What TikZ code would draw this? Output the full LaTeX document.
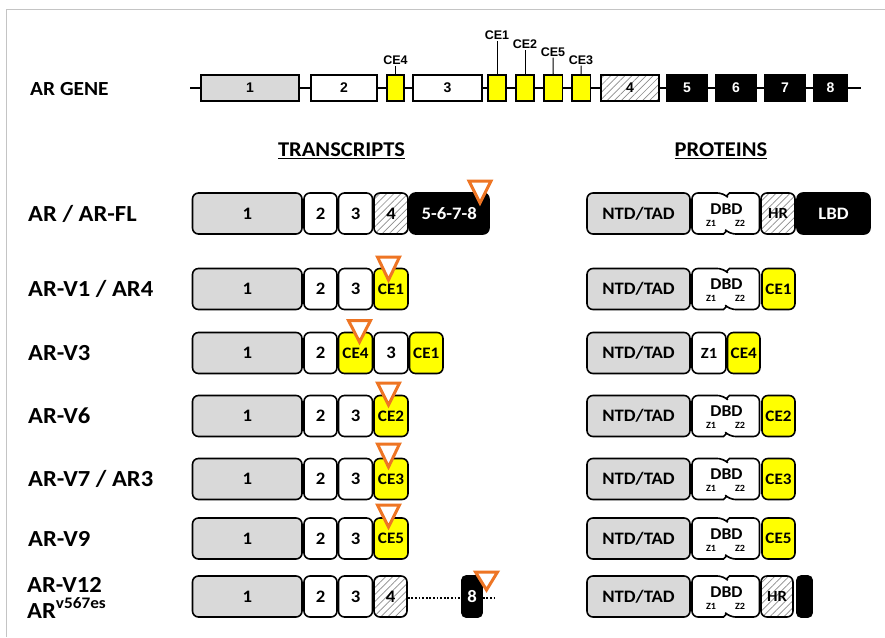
\documentclass[tikz,border=0pt]{standalone}
\usepackage{fontspec}
\setmainfont{Carlito}[FakeStretch=1.07]
\newfontfamily\arialf{Liberation Sans}
\usetikzlibrary{patterns.meta}
\definecolor{gfill}{HTML}{D9D9D9}
\definecolor{ylw}{HTML}{FFFF00}
\definecolor{orng}{HTML}{EE7524}
\definecolor{frm}{HTML}{C4C4C4}
\newcommand\myfs[1]{\fontsize{#1pt}{#1pt}\selectfont}
\newcommand\bx[6]{\node[#5, minimum width={(#3-#2)*1pt}] (#1) at ({(#2+#3)/2},#4) {#6};}
\newcommand\tri[3]{\draw[trimark] ({#1-11},#2) -- ({#1+11},#2) -- (#1,#3) -- cycle;}
\newcommand\dbd[2]{%
  \draw[line width=1.6pt, fill=white] (692,#2) [rounded corners=6pt] |- (723.5,{#2-20.5}) [sharp corners] -- (726.5,{#2-17.5}) -- (729.5,{#2-20.5}) [rounded corners=6pt] -| (759.5,#2) |- (729.5,{#2+20.5}) [sharp corners] -- (726.5,{#2+17.5}) -- (723.5,{#2+20.5}) [rounded corners=6pt] -| cycle;
  \node[font=\bfseries\myfs{16.5}, inner sep=0pt] (#1) at (726.5,{#2-4.5}) {DBD};
  \node[font=\bfseries\myfs{9.5}, inner sep=0pt] (#1z1) at (711,{#2+9.5}) {Z1};
  \node[font=\bfseries\myfs{9.5}, inner sep=0pt] (#1z2) at (740,{#2+9.5}) {Z2};
}
\begin{document}
\begin{tikzpicture}[x=1pt,y=-1pt,
  gbox/.style={draw, line width=1.2pt, minimum height=26pt, inner sep=0pt, font=\arialf\bfseries\myfs{14}},
  glab/.style={font=\arialf\bfseries\myfs{12.5}, inner sep=1pt},
  tick/.style={line width=1pt},
  tb/.style={draw, line width=1.6pt, rounded corners=6pt, minimum height=41pt, inner sep=0pt, font=\bfseries\myfs{17.5}},
  pb/.style={tb, font=\bfseries\myfs{17.5}},
  ce/.style={fill=ylw, font=\bfseries\myfs{16}},
  hatch/.style={preaction={fill=white}, pattern={Lines[angle=45,distance=5pt,line width=0.7pt]}, pattern color=gray!90},
  rowlab/.style={anchor=west, font=\bfseries\myfs{23}, inner sep=0pt},
  head/.style={font=\bfseries\myfs{21}, inner sep=0pt},
  trimark/.style={draw=orng, fill=white, line width=3pt, line join=miter},
  dotl/.style={line width=1.8pt, dash pattern=on 1.8pt off 1.8pt}
]
\useasboundingbox (0,0) rectangle (885,637);
\fill[white] (0,0) rectangle (885,637);
\draw[frm, line width=1.5pt] (885,9.5) -- (6.5,9.5) -- (6.5,637);

% ---------------- gene
\node[rowlab, font=\bfseries\myfs{20}] (lgene) at (30,89) {AR GENE};
\coordinate (gL) at (190,88);
\coordinate (gR) at (861,88);
\draw[line width=1.5pt] (gL) -- (gR);
\bx{g1}{201}{299}{88}{gbox,fill=gfill}{1}
\bx{g2}{311}{377}{88}{gbox,fill=white}{2}
\bx{gce4}{387}{404}{88}{gbox,fill=ylw}{}
\bx{g3}{413}{482}{88}{gbox,fill=white}{3}
\bx{gce1}{488}{506}{88}{gbox,fill=ylw}{}
\bx{gce2}{516}{534}{88}{gbox,fill=ylw}{}
\bx{gce5}{544}{562.5}{88}{gbox,fill=ylw}{}
\bx{gce3}{572}{590.5}{88}{gbox,fill=ylw}{}
\bx{g4}{601}{659}{88}{gbox,hatch}{4}
\bx{g5}{667}{707}{88}{gbox,fill=black,text=white}{5}
\bx{g6}{716}{756}{88}{gbox,fill=black,text=white}{6}
\bx{g7}{765}{805}{88}{gbox,fill=black,text=white}{7}
\bx{g8}{814}{847}{88}{gbox,fill=black,text=white}{8}
\node[glab] (lce4) at (395.5,60) {CE4};
\node[glab] (lce1) at (497,35) {CE1};
\node[glab] (lce2) at (525,44) {CE2};
\node[glab] (lce5) at (553,52) {CE5};
\node[glab] (lce3) at (581,60) {CE3};
\draw[tick] (gce4.north) -- (lce4.south);
\draw[tick] (gce1.north) -- (lce1.south);
\draw[tick] (gce2.north) -- (lce2.south);
\draw[tick] (gce5.north) -- (lce5.south);
\draw[tick] (gce3.north) -- (lce3.south);

% ---------------- headers
\node[head] (htr) at (341.5,151) {\underline{TRANSCRIPTS}};
\node[head] (hpr) at (721,151) {\underline{PROTEINS}};

% ---------------- AR / AR-FL
\node[rowlab] (lfl) at (28,213.5) {AR / AR-FL};
\bx{fl1}{192.5}{302}{213.5}{tb,fill=gfill}{1}
\bx{fl2}{304}{337}{213.5}{tb,fill=white}{2}
\bx{fl3}{338.5}{372.5}{213.5}{tb,fill=white}{3}
\bx{fl4}{374}{408}{213.5}{tb,hatch}{4}
\bx{fl5}{409.5}{489}{213.5}{tb,fill=black,text=white}{5-6-7-8}
\tri{480}{181}{203}
\bx{pfl1}{587}{690}{213.5}{pb,fill=gfill}{NTD/TAD}
\dbd{pfl2}{213.5}
\bx{pfl3}{761}{795}{213.5}{pb,hatch,font=\bfseries\myfs{15.5}}{HR}
\bx{pfl4}{797}{870}{213.5}{pb,fill=black,text=white}{LBD}

% ---------------- AR-V1 / AR4
\node[rowlab] (lv1) at (28,289) {AR-V1 / AR4};
\bx{v11}{192.5}{302}{289}{tb,fill=gfill}{1}
\bx{v12}{304}{337}{289}{tb,fill=white}{2}
\bx{v13}{338.5}{372.5}{289}{tb,fill=white}{3}
\bx{v1ce}{374}{408}{289}{tb,ce}{CE1}
\tri{388.5}{257}{280}
\bx{pv11}{587}{690}{289}{pb,fill=gfill}{NTD/TAD}
\dbd{pv12}{289}
\bx{pv1ce}{762}{795}{289}{pb,ce}{CE1}

% ---------------- AR-V3
\node[rowlab] (lv3) at (28,353) {AR-V3};
\bx{v31}{192.5}{302}{353}{tb,fill=gfill}{1}
\bx{v32}{304}{337}{353}{tb,fill=white}{2}
\bx{v3ce4}{338.5}{372.5}{353}{tb,ce}{CE4}
\bx{v33}{374}{408}{353}{tb,fill=white}{3}
\bx{v3ce1}{409.5}{443}{353}{tb,ce}{CE1}
\tri{359.5}{320.5}{342}
\bx{pv31}{587}{690}{353}{pb,fill=gfill}{NTD/TAD}
\bx{pv32}{692}{726}{353}{pb,fill=white,font=\bfseries\myfs{15.5}}{Z1}
\bx{pv3ce}{727.5}{760}{353}{pb,ce}{CE4}

% ---------------- AR-V6
\node[rowlab] (lv6) at (28,416) {AR-V6};
\bx{v61}{192.5}{302}{416}{tb,fill=gfill}{1}
\bx{v62}{304}{337}{416}{tb,fill=white}{2}
\bx{v63}{338.5}{372.5}{416}{tb,fill=white}{3}
\bx{v6ce}{374}{408}{416}{tb,ce}{CE2}
\tri{388.5}{383}{405}
\bx{pv61}{587}{690}{416}{pb,fill=gfill}{NTD/TAD}
\dbd{pv62}{416}
\bx{pv6ce}{762}{795}{416}{pb,ce}{CE2}

% ---------------- AR-V7 / AR3
\node[rowlab] (lv7) at (28,479) {AR-V7 / AR3};
\bx{v71}{192.5}{302}{479}{tb,fill=gfill}{1}
\bx{v72}{304}{337}{479}{tb,fill=white}{2}
\bx{v73}{338.5}{372.5}{479}{tb,fill=white}{3}
\bx{v7ce}{374}{408}{479}{tb,ce}{CE3}
\tri{388.5}{444}{467}
\bx{pv71}{587}{690}{479}{pb,fill=gfill}{NTD/TAD}
\dbd{pv72}{479}
\bx{pv7ce}{762}{795}{479}{pb,ce}{CE3}

% ---------------- AR-V9
\node[rowlab] (lv9) at (28,538.5) {AR-V9};
\bx{v91}{192.5}{302}{538.5}{tb,fill=gfill}{1}
\bx{v92}{304}{337}{538.5}{tb,fill=white}{2}
\bx{v93}{338.5}{372.5}{538.5}{tb,fill=white}{3}
\bx{v9ce}{374}{408}{538.5}{tb,ce}{CE5}
\tri{388.5}{505}{527}
\bx{pv91}{587}{690}{538.5}{pb,fill=gfill}{NTD/TAD}
\dbd{pv92}{538.5}
\bx{pv9ce}{762}{795}{538.5}{pb,ce}{CE5}

% ---------------- AR-V12
\node[rowlab] (lv12a) at (27,585) {AR-V12};
\node[rowlab] (lv12b) at (27,608) {AR\textsuperscript{v567es}};
\bx{v121}{192.5}{302}{596.5}{tb,fill=gfill}{1}
\bx{v122}{304}{337}{596.5}{tb,fill=white}{2}
\bx{v123}{338.5}{372.5}{596.5}{tb,fill=white}{3}
\bx{v124}{374}{407}{596.5}{tb,hatch}{4}
\bx{v128}{462}{482}{596.5}{tb,fill=black,text=white,rounded corners=4pt}{8}
\coordinate (v12end) at (497,598);
\draw[dotl] (v124.east |- 0,598) -- (v128.west |- 0,598);
\draw[dotl] (v128.east |- 0,598) -- (v12end);
\tri{486.5}{572}{590}
\bx{pv121}{587}{690}{596.5}{pb,fill=gfill}{NTD/TAD}
\dbd{pv122}{596.5}
\bx{pv123}{761}{793}{596.5}{pb,hatch,font=\bfseries\myfs{15.5}}{HR}
\bx{pv124}{797}{812}{596.5}{pb,fill=black,rounded corners=4pt}{}
\end{tikzpicture}
\end{document}
